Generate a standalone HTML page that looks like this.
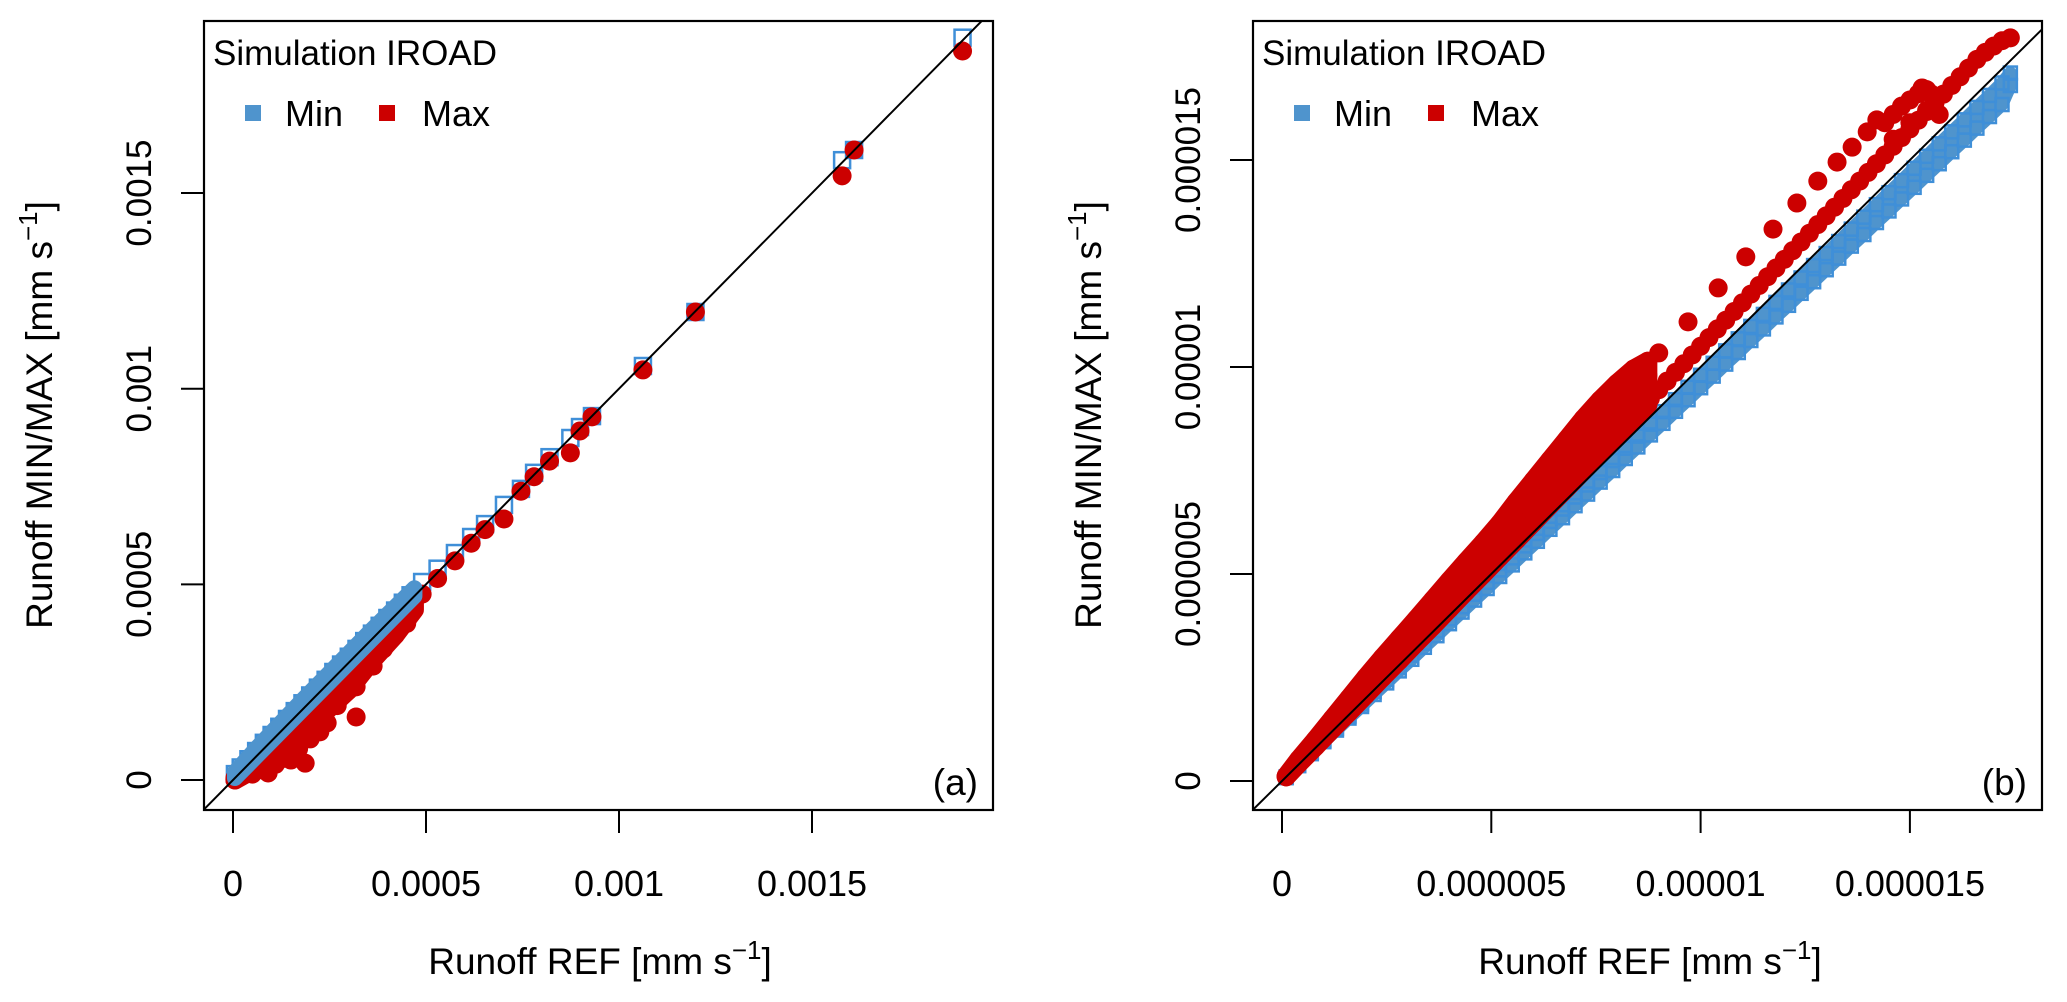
<!DOCTYPE html>
<html><head><meta charset="utf-8"><style>
html,body{margin:0;padding:0;background:#fff}
svg{display:block;font-family:"Liberation Sans",Arial,sans-serif}
</style></head><body>
<svg id="chart" width="2067" height="1002" viewBox="0 0 2067 1002" xmlns="http://www.w3.org/2000/svg"></svg>
<script>
// ---- Panel (a) data, units 1e-4 mm/s ----
const refA = [0.05,0.2,0.4,0.6,0.8,1.0,1.2,1.4,1.6,1.8,2.0,2.2,2.4,2.6,2.8,3.0,3.2,3.4,3.6,3.8,4.0,4.2,4.4,4.6,4.9,5.3,5.75,6.17,6.53,7.02,7.46,7.8,8.2,8.74,8.99,9.3,10.62,11.98,15.78,16.09,18.9];
const minA = [0.15,0.32,0.53,0.74,0.95,1.15,1.36,1.56,1.76,1.96,2.16,2.36,2.56,2.76,2.95,3.15,3.35,3.55,3.74,3.94,4.14,4.33,4.53,4.72,5.06,5.4,5.8,6.21,6.54,7.03,7.44,7.85,8.25,8.74,9.02,9.3,10.58,11.96,15.84,16.1,18.97];
const maxA = [0.0,0.1,0.28,0.46,0.65,0.84,1.03,1.22,1.41,1.6,1.8,1.99,2.19,2.39,2.58,2.78,2.98,3.18,3.38,3.57,3.77,3.98,4.18,4.38,4.75,5.15,5.6,6.05,6.4,6.67,7.38,7.75,8.15,8.36,8.92,9.28,10.48,11.96,15.44,16.1,18.63];
const refLoA = [0.5,0.8,0.91,1.1,1.3,1.5,1.7,1.87,2.0,2.25,2.44,2.7,3.0,3.19,3.19,3.63,3.9,4.2,4.5];
const maxLoA = [0.15,0.25,0.18,0.4,0.55,0.51,0.8,0.43,1.05,1.23,1.46,1.9,2.3,1.61,2.38,2.91,3.35,3.7,4.0];
const bandRefA = [0.05,0.6,1.2,1.8,2.4,3.0,3.6,4.2,4.7];
const bandTopA = [0.2,0.8,1.42,2.04,2.64,3.24,3.84,4.42,4.9];
const bandRedLoA = [0.0,0.3,0.75,1.2,1.75,2.3,3.05,3.7,4.35];
const ticksA = [0,5,10,15];
const tickLabelsA = ["0","0.0005","0.001","0.0015"];
// ---- Panel (b) data, units 1e-6 mm/s ----
const refB = [0.1,0.4,0.8,1.2,1.6,2.0,2.4,2.8,3.2,3.6,4.0,4.4,4.8,5.2,5.6,6.0,6.4,6.8,7.2,7.6,8.0,8.4,8.74];
const maxLoB = [0.1,0.42,0.83,1.25,1.66,2.08,2.5,2.91,3.33,3.74,4.16,4.58,4.99,5.41,5.82,6.24,6.66,7.07,7.49,7.9,8.32,8.74,9.09];
const maxMidB = [0.11,0.46,0.9,1.35,1.8,2.25,2.7,3.14,3.59,4.04,4.49,4.94,5.38,5.83,6.28,6.73,7.18,7.62,8.07,8.52,8.97,9.42,9.8];
const maxHiB = [0.12,0.52,1.0,1.5,2.0,2.5,2.98,3.44,3.9,4.37,4.84,5.3,5.75,6.22,6.75,7.25,7.75,8.25,8.75,9.2,9.6,9.95,10.14];
const refB2 = [8.8,9.0,9.2,9.4,9.6,9.8,10.0,10.2,10.4,10.6,10.8,11.0,11.2,11.4,11.6,11.8,12.0,12.2,12.4,12.6,12.8,13.0,13.2,13.4,13.6,13.8,14.0,14.2,14.4,14.6,14.8,15.0,15.2,15.4,15.6,15.8,16.0,16.2,16.4,16.6,16.8,17.0,17.2,17.4];
const maxB2 = [9.24,9.45,9.66,9.87,10.08,10.29,10.5,10.71,10.92,11.13,11.34,11.55,11.76,11.97,12.18,12.39,12.6,12.81,13.02,13.23,13.44,13.65,13.86,14.07,14.28,14.49,14.7,14.91,15.12,15.33,15.54,15.75,15.96,16.17,16.38,16.59,16.8,17.01,17.22,17.43,17.6,17.75,17.88,17.95];
const refOutB = [9.0,9.70,10.42,11.08,11.73,12.30,12.80,13.26,13.62,13.98,14.21];
const valOutB = [10.34,11.09,11.91,12.66,13.33,13.96,14.49,14.95,15.31,15.68,15.97];
const refClB = [14.4,14.6,14.8,15.0,15.2,15.29,15.4,15.5,15.6,15.7,14.6,15.0,15.4];
const valClB = [15.9,16.1,16.3,16.45,16.6,16.74,16.7,16.6,16.4,16.1,15.5,15.9,16.2];
const refMinB = [0.1,0.4,0.7,1.0,1.3,1.6,1.9,2.2,2.5,2.8,3.1,3.4,3.7,4.0,4.3,4.6,4.9,5.2,5.5,5.8,6.1,6.4,6.7,7.0,7.3,7.6,7.9,8.2,8.5,8.8,9.1,9.4,9.7,10.0,10.3,10.6,10.9,11.2,11.5,11.8,12.1,12.4,12.7,13.0,13.3,13.6,13.9,14.2,14.5,14.8,15.1,15.4,15.7,16.0,16.3,16.6,16.9,17.2,17.4];
const minB = [0.1,0.39,0.69,0.98,1.27,1.57,1.86,2.16,2.45,2.74,3.04,3.33,3.63,3.92,4.21,4.51,4.8,5.1,5.39,5.68,5.98,6.27,6.57,6.86,7.15,7.45,7.74,8.04,8.33,8.62,8.92,9.21,9.51,9.8,10.09,10.39,10.68,10.98,11.27,11.56,11.86,12.15,12.45,12.74,13.03,13.33,13.62,13.92,14.21,14.5,14.8,15.09,15.39,15.68,15.97,16.27,16.56,16.86,17.1];
const minLoB = [0.08,0.37,0.66,0.95,1.23,1.52,1.8,2.09,2.37,2.66,2.94,3.23,3.51,3.8,4.08,4.37,4.65,4.94,5.22,5.51,5.79,6.08,6.36,6.65,6.93,7.22,7.5,7.79,8.07,8.36,8.64,8.93,9.21,9.5,9.78,10.07,10.35,10.64,10.92,11.21,11.49,11.78,12.06,12.35,12.63,12.92,13.2,13.49,13.77,14.06,14.34,14.63,14.91,15.2,15.48,15.77,16.05,16.34,16.8];
const ticksB = [0,5,10,15];
const tickLabelsB = ["0","0.000005","0.00001","0.000015"];

const NS = "http://www.w3.org/2000/svg";
const svg = document.getElementById("chart");
const BLUE = "#4f94cd", BLUE_S = "#3f8fd8", RED = "#cc0000";
function mk(tag, attrs, parent){
  const e = document.createElementNS(NS, tag);
  for (const k in attrs) e.setAttribute(k, attrs[k]);
  (parent || svg).appendChild(e);
  return e;
}
function panel(cfg){
  const g = mk("g", {});
  
  
  const sx = v => cfg.x0 + v * cfg.kx;
  const sy = v => cfg.y0 - v * cfg.ky;
  const clipId = cfg.name + "-clip";
  const cp = mk("clipPath", {id: clipId}, g);
  mk("rect", {x: cfg.L, y: cfg.T, width: cfg.R - cfg.L, height: cfg.B - cfg.T}, cp);
  const pts = mk("g", {"clip-path": "url(#" + clipId + ")"}, g);
  
  
  function band(xs1, ys1, xs2, ys2, color, w, name){
    let d = "";
    xs1.forEach((x, i) => { d += (i ? "L" : "M") + sx(x) + "," + sy(ys1[i]); });
    for (let i = xs2.length - 1; i >= 0; i--) d += "L" + sx(xs2[i]) + "," + sy(ys2[i]);
    d += "Z";
    const p = mk("path", {d: d, fill: color, stroke: color, "stroke-width": w, "stroke-linejoin": "round"}, pts);
    
    
  }
  const hs = cfg.sq / 2;
  cfg.blueBands.forEach(b => band(b[0], b[1], b[2], b[3], BLUE, cfg.sq, 'min-cloud'));
  cfg.blue.forEach(([rx, ry]) => {
    rx.forEach((r, i) => {
      const s = mk("rect", {x: sx(r) - hs, y: sy(ry[i]) - hs, width: cfg.sq, height: cfg.sq, fill: "none", stroke: BLUE_S, "stroke-width": 2.5}, pts);
      
      
    });
  });
  cfg.redBands.forEach(b => band(b[0], b[1], b[2], b[3], RED, cfg.cr * 2, 'max-cloud'));
  cfg.red.forEach(([rx, ry]) => {
    rx.forEach((r, i) => {
      const c = mk("circle", {cx: sx(r), cy: sy(ry[i]), r: cfg.cr, fill: RED}, pts);
      
      
    });
  });
  cfg.blueTop.forEach(b => band(b[0], b[1], b[2], b[3], BLUE, cfg.sq, 'min-cloud-top'));
  const lo = -5, hi = 30;
  const ln = mk("line", {x1: sx(lo), y1: sy(lo), x2: sx(hi), y2: sy(hi), stroke: "#000", "stroke-width": 2, "clip-path": "url(#" + clipId + ")"}, g);
  
  
  const bx = mk("rect", {x: cfg.L, y: cfg.T, width: cfg.R - cfg.L, height: cfg.B - cfg.T, fill: "none", stroke: "#000", "stroke-width": 2.2}, g);
  
  
  const xa = mk("g", {}, g);
  
  
  mk("line", {x1: sx(cfg.ticks[0]), y1: cfg.B, x2: sx(cfg.ticks[cfg.ticks.length-1]), y2: cfg.B, stroke: "#000", "stroke-width": 2}, xa);
  cfg.ticks.forEach((t, i) => {
    mk("line", {x1: sx(t), y1: cfg.B, x2: sx(t), y2: cfg.B + 23, stroke: "#000", "stroke-width": 2}, xa);
    const tx = mk("text", {x: sx(t), y: 896, "font-size": 36, "text-anchor": "middle"}, xa);
    tx.textContent = cfg.labels[i];
    
    
  });
  const ya = mk("g", {}, g);
  
  
  mk("line", {x1: cfg.L, y1: sy(cfg.ticks[0]), x2: cfg.L, y2: sy(cfg.ticks[cfg.ticks.length-1]), stroke: "#000", "stroke-width": 2}, ya);
  cfg.ticks.forEach((t, i) => {
    mk("line", {x1: cfg.L - 23, y1: sy(t), x2: cfg.L, y2: sy(t), stroke: "#000", "stroke-width": 2}, ya);
    const tx = mk("text", {x: 0, y: 0, "font-size": 35, "text-anchor": "middle", transform: "translate(" + (cfg.L - 53) + "," + sy(t) + ") rotate(-90)"}, ya);
    tx.textContent = cfg.labels[i];
    
    
  });
  const xt = mk("text", {x: cfg.xtx, y: 974, "font-size": 37, "text-anchor": "middle"}, g);
  xt.innerHTML = 'Runoff REF [mm s<tspan dy="-15" font-size="26">−1</tspan><tspan dy="15">]</tspan>';
  
  
  const yt = mk("text", {x: 0, y: 0, "font-size": 37, "text-anchor": "middle", transform: "translate(" + cfg.ytx + ",415) rotate(-90)"}, g);
  yt.innerHTML = 'Runoff MIN/MAX [mm s<tspan dy="-15" font-size="26">−1</tspan><tspan dy="15">]</tspan>';
  
  
  const lg = mk("g", {}, g);
  
  
  const ox = cfg.L - 204;
  const lt = mk("text", {x: 213 + ox, y: 65, "font-size": 35}, lg);
  lt.textContent = "Simulation IROAD";
  
  
  const e1 = mk("g", {}, lg);
  
  
  mk("rect", {x: 245 + ox, y: 105, width: 16, height: 16, fill: BLUE}, e1);
  const t1 = mk("text", {x: 285 + ox, y: 126, "font-size": 36}, e1); t1.textContent = "Min";
  const e2 = mk("g", {}, lg);
  
  
  mk("rect", {x: 379 + ox, y: 105, width: 16, height: 16, fill: RED}, e2);
  const t2 = mk("text", {x: 422 + ox, y: 126, "font-size": 36}, e2); t2.textContent = "Max";
  const pl = mk("text", {x: cfg.R - 15, y: 795, "font-size": 37, "text-anchor": "end"}, g);
  pl.textContent = cfg.tag;
  
  
}
panel({name: "panel-a", L: 204, R: 993, T: 21, B: 810, x0: 233, kx: 38.6, y0: 780, ky: 39.13,
  sq: 16, cr: 9.5, ticks: ticksA, labels: tickLabelsA, xtx: 600, ytx: 52, tag: "(a)",
  blueBands: [], blueTop: [[bandRefA, bandTopA, bandRefA, bandRefA]],
  redBands: [[bandRefA, bandRefA, bandRefA, bandRedLoA]],
  blue: [[refA, minA]], red: [[refA, maxA], [refLoA, maxLoA]]});
panel({name: "panel-b", L: 1253, R: 2042, T: 21, B: 810, x0: 1282, kx: 41.86, y0: 781, ky: 41.4,
  sq: 13, cr: 9.5, ticks: ticksB, labels: tickLabelsB, xtx: 1650, ytx: 1101, tag: "(b)",
  blueBands: [[refMinB, minB, refMinB, minLoB]], blueTop: [],
  redBands: [[refB, maxHiB, refB, maxLoB]],
  blue: [[refMinB, minB], [refMinB, minLoB]],
  red: [[refB, maxLoB], [refB, maxMidB], [refB, maxHiB], [refB2, maxB2], [refOutB, valOutB], [refClB, valClB]]});
</script>
</body></html>
